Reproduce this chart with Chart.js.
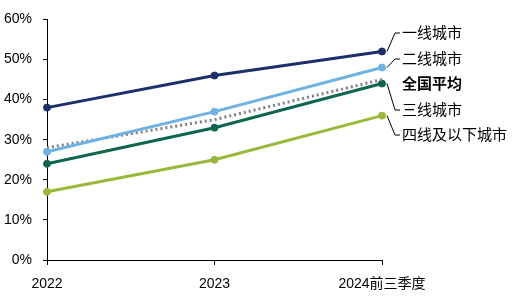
<!DOCTYPE html>
<html><head><meta charset="utf-8">
<script src="https://cdn.jsdelivr.net/npm/chart.js@4"></script>
<style>html,body{margin:0;padding:0;background:#fff}#wrap{width:522px;height:298px}</style>
</head><body><div id="wrap"><canvas id="c" width="522" height="298"></canvas></div>
<script>
const categories = ['2022', '2023', '2024前三季度'];
const tier1 = [38, 46, 52];
const tier2 = [27, 37, 48];
const national = [28, 35, 45];
const tier3 = [24, 33, 44];
const tier4 = [17, 25, 36];
const yTicks = [0, 10, 20, 30, 40, 50, 60];

const FONT = "'Liberation Sans','Noto Sans CJK SC',sans-serif";
const labelPos = [
  {ds:0, text:'一线城市', y:33, bold:false, leader:true},
  {ds:1, text:'二线城市', y:59, bold:false, leader:true},
  {ds:2, text:'全国平均', y:84, bold:true, leader:false},
  {ds:3, text:'三线城市', y:110, bold:false, leader:true},
  {ds:4, text:'四线及以下城市', y:135, bold:false, leader:true}
];
const endLabels = {
  id:'endLabels',
  afterDatasetsDraw(chart){
    const ctx = chart.ctx;
    ctx.save();
    labelPos.forEach(l=>{
      const meta = chart.getDatasetMeta(l.ds);
      const pt = meta.data[meta.data.length-1];
      if(l.leader){
        ctx.strokeStyle='#000'; ctx.lineWidth=1;
        ctx.beginPath();
        ctx.moveTo(pt.x+5, pt.y);
        ctx.lineTo(pt.x+13, l.y);
        ctx.lineTo(pt.x+18, l.y);
        ctx.stroke();
      }
      ctx.fillStyle='#000';
      ctx.font=(l.bold?'bold ':'')+'15px '+FONT;
      ctx.textBaseline='middle'; ctx.textAlign='left';
      ctx.fillText(l.text, pt.x+20, l.y+1);
    });
    ctx.restore();
  }
};
function ds(label, data, color, dashed){
  return {label, data, borderColor:color, backgroundColor:color, borderWidth:3,
    pointRadius: dashed?0:3.5, pointBorderWidth:1, pointHoverRadius:0, borderDash: dashed?[2,3]:[], tension:0, fill:false};
}
new Chart(document.getElementById('c'), {
  type:'line',
  data:{labels:categories, datasets:[
    ds('一线城市', tier1, '#1b2f6b', false),
    ds('二线城市', tier2, '#6cb2e2', false),
    ds('全国平均', national, '#7f7f7f', true),
    ds('三线城市', tier3, '#0e6650', false),
    ds('四线及以下城市', tier4, '#9ab93a', false)
  ]},
  options:{
    responsive:false, animation:false,
    layout:{padding:{top:16, right:140, left:0, bottom:0}},
    plugins:{legend:{display:false}, tooltip:{enabled:false}},
    scales:{
      x:{offset:false,
        grid:{drawOnChartArea:false, drawTicks:true, tickLength:5, color:'#000'},
        border:{color:'#000', width:1},
        ticks:{color:'#000', font:{size:14, family:FONT}, padding:11, maxRotation:0, autoSkip:false},
        afterFit(s){ s.height = 38; }
      },
      y:{min:0, max:60,
        afterBuildTicks(s){ s.ticks = yTicks.map(v=>({value:v})); },
        grid:{drawOnChartArea:false, drawTicks:true, tickLength:4, color:'#000'},
        border:{color:'#000', width:1},
        ticks:{color:'#000', font:{size:14, family:FONT}, padding:11, callback:v=>v+'%'},
        afterFit(s){ s.width = 47; }
      }
    }
  },
  plugins:[endLabels]
});
</script></body></html>
